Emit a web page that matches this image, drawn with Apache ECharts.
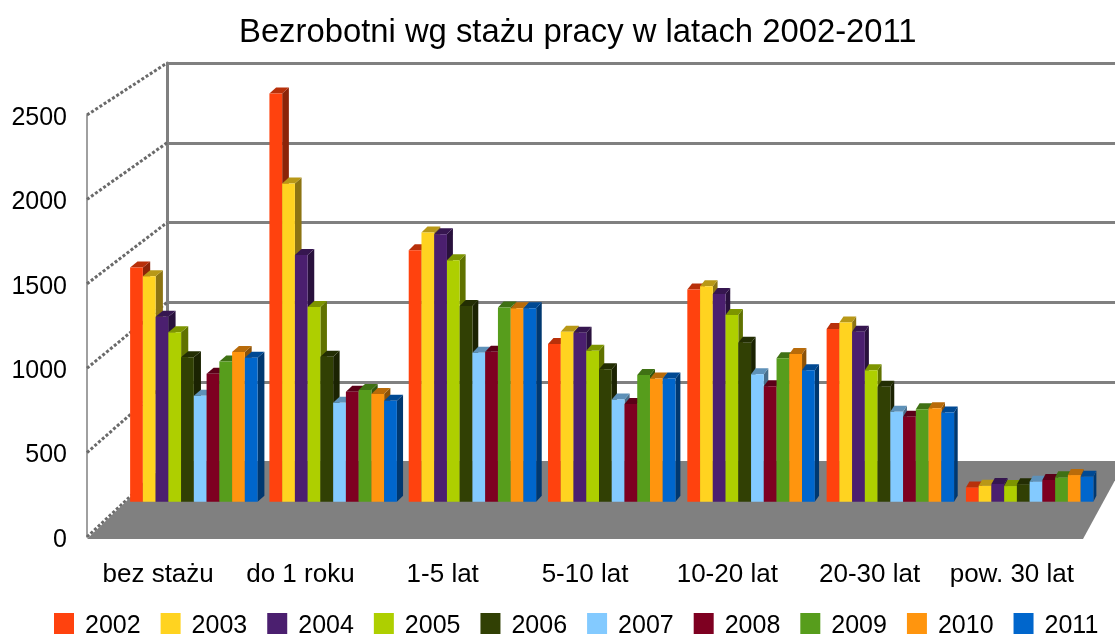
<!DOCTYPE html>
<html>
<head>
<meta charset="utf-8">
<style>
html, body { margin: 0; padding: 0; background: #fff; }
#main { width: 1115px; height: 639px; }
</style>
<script src="https://cdn.jsdelivr.net/npm/echarts@6/dist/echarts.min.js"></script>
</head>
<body>
<div id="main"></div>
<script>
var categories = ['bez stażu', 'do 1 roku', '1-5 lat', '5-10 lat', '10-20 lat', '20-30 lat', 'pow. 30 lat'];
var years = ['2002', '2003', '2004', '2005', '2006', '2007', '2008', '2009', '2010', '2011'];
var colors = ['#ff420e', '#ffd320', '#4b1f6f', '#aecf00', '#314004', '#83caff', '#7e0021', '#579d1c', '#ff950e', '#0066cc'];
var yTicks = [0, 500, 1000, 1500, 2000, 2500];

var v2002 = [1425, 2483, 1530, 959, 1291, 1050, 87];
var v2003 = [1372, 1936, 1638, 1033, 1311, 1090, 97];
var v2004 = [1125, 1500, 1627, 1027, 1263, 1033, 108];
var v2005 = [1030, 1185, 1469, 918, 1135, 800, 95];
var v2006 = [878, 881, 1190, 805, 967, 699, 106];
var v2007 = [645, 602, 906, 622, 776, 547, 122];
var v2008 = [778, 669, 912, 594, 703, 517, 132];
var v2009 = [853, 679, 1182, 770, 872, 563, 148];
var v2010 = [910, 655, 1176, 750, 898, 568, 162];
var v2011 = [875, 614, 1176, 750, 800, 543, 152];
var yearValues = [v2002, v2003, v2004, v2005, v2006, v2007, v2008, v2009, v2010, v2011];

var font = '"Liberation Sans", Arial, sans-serif';

// the 3d box: front plane carries the labels, back plane the grid lines, bars stand between
var front = { left: 87, right: 1083, top: 115, bottom: 537 };
var back = { left: 167, right: 1115, top: 63, bottom: 462 };
var bars = { left: 124.2, right: 1099.3, top: 90.7, bottom: 501.7 };

function backY(v) {
    return back.bottom - v / 2500 * (back.bottom - back.top);
}

// floor lines lean less the further right they are
function leanAt(x) {
    return 80 - 48 * (x - 87) / 996;
}

function shade(hex, k) {
    var n = parseInt(hex.slice(1), 16);
    var r = Math.round((n >> 16 & 255) * k);
    var g = Math.round((n >> 8 & 255) * k);
    var b = Math.round((n & 255) * k);
    return 'rgb(' + r + ',' + g + ',' + b + ')';
}

function poly(points, fill) {
    return { type: 'polygon', shape: { points: points }, style: { fill: fill } };
}

function renderFloor(params, api) {
    var a = api.coord([0, 0]);
    return poly([
        [front.left, a[1] + 2],
        [back.left, back.bottom],
        [1125, back.bottom],
        [front.right, a[1] + 2]
    ], '#808080');
}

function renderSideLine(params, api) {
    var v = api.value(0);
    var p = api.coord([0, v]);
    return {
        type: 'line',
        shape: { x1: front.left, y1: p[1], x2: back.left, y2: backY(v) },
        style: { stroke: '#6a6a6a', lineWidth: 3, lineDash: [3, 2] }
    };
}

function barRenderer(yearIndex, color) {
    return function (params, api) {
        var p = api.coord([api.value(0), api.value(1)]);
        var base = api.coord([api.value(0), 0]);
        var band = api.size([1, 0])[0];
        var w = band * 0.0915;
        var x1 = p[0] - 5 * w + yearIndex * w;
        var x2 = x1 + w;
        var dx = leanAt(x2) * 0.095;
        var dy = 6;
        return {
            type: 'group',
            children: [
                poly([[x2, p[1]], [x2 + dx, p[1] - dy], [x2 + dx, base[1] - dy], [x2, base[1]]], shade(color, 0.55)),
                poly([[x1, p[1]], [x1 + dx, p[1] - dy], [x2 + dx, p[1] - dy], [x2, p[1]]], shade(color, 0.72)),
                { type: 'rect', shape: { x: x1, y: p[1], width: w, height: base[1] - p[1] }, style: { fill: color } }
            ]
        };
    };
}

var series = [
    {
        type: 'custom', name: 'sideLines', xAxisIndex: 0, yAxisIndex: 0, z: 1, silent: true,
        data: yTicks.map(function (v) { return [v]; }),
        encode: { y: 0 },
        renderItem: renderSideLine
    },
    {
        type: 'custom', name: 'floor', xAxisIndex: 0, yAxisIndex: 0, z: 2, silent: true,
        data: [[0]],
        encode: { y: 0 },
        renderItem: renderFloor
    }
];

years.forEach(function (year, i) {
    series.push({
        type: 'custom',
        name: year,
        xAxisIndex: 2,
        yAxisIndex: 2,
        z: 3 + i,
        itemStyle: { color: colors[i] },
        encode: { x: 0, y: 1 },
        data: yearValues[i].map(function (v, c) { return [c, v]; }),
        renderItem: barRenderer(i, colors[i])
    });
});

function gridOf(box) {
    return { left: box.left, top: box.top, width: box.right - box.left, height: box.bottom - box.top };
}

function hiddenX(index) {
    return { type: 'category', gridIndex: index, data: categories, show: false };
}

function valueAxis(index) {
    return {
        type: 'value', gridIndex: index, min: 0, max: 2500, interval: 500,
        axisLabel: { show: false }, axisTick: { show: false },
        axisLine: { show: false }, splitLine: { show: false }
    };
}

var frontY = valueAxis(0);
frontY.axisLabel = {
    show: true, color: '#000', fontFamily: font, fontSize: 25, margin: 20,
    formatter: function (v) { return '{t|' + v + '}'; },
    rich: { t: { color: '#000', fontFamily: font, fontSize: 25, padding: [6, 0, 0, 0] } }
};
frontY.axisLine = { show: true, lineStyle: { color: '#808080', width: 1.5 } };

var backYAxis = valueAxis(1);
backYAxis.axisLine = { show: true, lineStyle: { color: '#808080', width: 3 } };
backYAxis.splitLine = { show: true, lineStyle: { color: '#808080', width: 3 } };

var option = {
    animation: false,
    backgroundColor: '#fff',
    title: {
        text: 'Bezrobotni wg stażu pracy w latach 2002-2011',
        left: 234,
        top: 11,
        textStyle: { color: '#000', fontFamily: font, fontSize: 32.8, fontWeight: 'normal' }
    },
    legend: {
        left: 49,
        top: 608,
        width: 1100,
        icon: 'rect',
        itemWidth: 20,
        itemHeight: 21,
        itemGap: 20,
        data: years,
        formatter: '{t|{name}}',
        textStyle: {
            color: '#000', fontFamily: font, fontSize: 25,
            rich: { t: { color: '#000', fontFamily: font, fontSize: 25, padding: [6, 0, 0, 6] } }
        }
    },
    grid: [gridOf(front), gridOf(back), gridOf(bars)],
    xAxis: [
        {
            type: 'category', gridIndex: 0, data: categories,
            axisLine: { show: false }, axisTick: { show: false },
            axisLabel: { color: '#000', fontFamily: font, fontSize: 26, margin: 25, interval: 0 }
        },
        hiddenX(1),
        hiddenX(2)
    ],
    yAxis: [frontY, backYAxis, valueAxis(2)],
    series: series
};

var myChart = echarts.init(document.getElementById('main'), null, { renderer: 'canvas' });
myChart.setOption(option);
</script>
</body>
</html>
